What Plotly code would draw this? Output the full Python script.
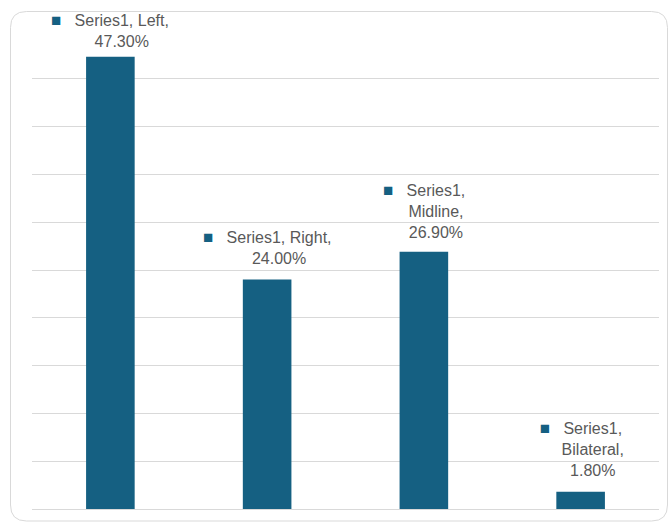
import plotly.graph_objects as go

# ---- data ----
categories = ["Left", "Right", "Midline", "Bilateral"]
values = [47.3, 24.0, 26.9, 1.8]
series_name = "Series1"
# how the label text wraps in the reference (lines of each data label)
label_lines = [
    [f"{series_name}, Left,", "{v}"],
    [f"{series_name}, Right,", "{v}"],
    [f"{series_name},", "Midline,", "{v}"],
    [f"{series_name},", "Bilateral,", "{v}"],
]
label_yshift = [4, 10, 8, 10]

BAR = "#156082"
TXT = "#595959"
GRID = "#d9d9d9"
FONT = "Liberation Sans, Arial, sans-serif"

W, H = 669, 523
ML, MR, MT, MB = 32, 10, 31, 14

fig = go.Figure()
fig.add_trace(go.Bar(
    x=categories, y=values, marker=dict(color=BAR, line=dict(width=0)),
    width=0.31, hoverinfo="skip", showlegend=False,
))

key = f"<span style='color:{BAR};font-size:17px'>■</span>&nbsp;&nbsp;&nbsp;"
hidden = f"<span style='color:rgba(0,0,0,0);font-size:17px'>■</span>&nbsp;&nbsp;&nbsp;"
for cat, v, lines, ys in zip(categories, values, label_lines, label_yshift):
    vtxt = f"{v:.2f}%"
    parts = []
    for i, ln in enumerate(lines):
        ln = ln.replace("{v}", vtxt)
        parts.append((key if i == 0 else hidden) + ln)
    fig.add_annotation(
        x=cat, y=v, text="<br>".join(parts), showarrow=False,
        xanchor="center", yanchor="bottom", yshift=ys, align="center",
        font=dict(family=FONT, size=16, color=TXT),
    )

# rounded chart border (pixel -> paper helper)
pw, ph = W - ML - MR, H - MT - MB
def px(x):
    return (x - ML) / pw
def py(y):
    return (H - MB - y) / ph
x0, y0, x1, y1, r = 10.5, 11.5, 667.5, 521, 16
path = (
    f"M {px(x0 + r)},{py(y0)} L {px(x1 - r)},{py(y0)} "
    f"Q {px(x1)},{py(y0)} {px(x1)},{py(y0 + r)} "
    f"L {px(x1)},{py(y1 - r)} Q {px(x1)},{py(y1)} {px(x1 - r)},{py(y1)} "
    f"L {px(x0 + r)},{py(y1)} Q {px(x0)},{py(y1)} {px(x0)},{py(y1 - r)} "
    f"L {px(x0)},{py(y0 + r)} Q {px(x0)},{py(y0)} {px(x0 + r)},{py(y0)} Z"
)
fig.add_shape(type="path", path=path, xref="paper", yref="paper",
              line=dict(color=GRID, width=1), layer="below")

fig.update_layout(
    width=W, height=H,
    margin=dict(l=ML, r=MR, t=MT, b=MB),
    paper_bgcolor="white", plot_bgcolor="white",
    bargap=0.69,
    xaxis=dict(showticklabels=False, showgrid=False, zeroline=False,
               showline=False, ticks=""),
    yaxis=dict(range=[0, 50], dtick=5, showticklabels=False, ticks="",
               showgrid=True, gridcolor=GRID, gridwidth=1,
               zeroline=True, zerolinecolor=GRID, zerolinewidth=1,
               showline=False),
)

fig.write_html("out.html")
